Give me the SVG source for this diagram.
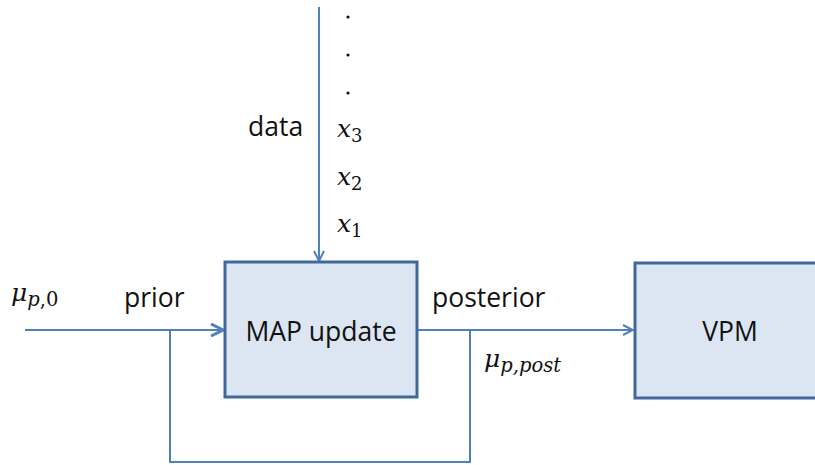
<svg xmlns="http://www.w3.org/2000/svg" width="815" height="465" viewBox="0 0 815 465">
<style>
.box{fill:#dce6f2;stroke:#41689a;stroke-width:3}
.ln{fill:none;stroke:#4f81bd;stroke-width:2}
.t{font-family:"Open Sans","Liberation Sans",sans-serif;font-size:26.5px;fill:#111}
.m{font-family:"DejaVu Serif","Liberation Serif",serif;font-style:italic;font-size:25px;fill:#111}
.s{font-size:18px}
.s2{font-size:19.5px}
</style>
<defs>
<marker id="ah" viewBox="0 0 12 12" refX="11" refY="6" markerWidth="12" markerHeight="12" markerUnits="userSpaceOnUse" orient="auto">
<path d="M1,1 L11,6 L1,11" fill="none" stroke="#4f81bd" stroke-width="2"/>
</marker>
<marker id="ahb" viewBox="0 0 14 14" refX="13" refY="7" markerWidth="14" markerHeight="14" markerUnits="userSpaceOnUse" orient="auto">
<path d="M1,1 L13,7 L1,13" fill="none" stroke="#4f81bd" stroke-width="3"/>
</marker>
</defs>
<g id="connectors">
<line class="ln" x1="319" y1="7" x2="319" y2="261" marker-end="url(#ah)"/>
<line class="ln" x1="25" y1="330" x2="223" y2="330" marker-end="url(#ahb)"/>
<line class="ln" x1="417" y1="330" x2="633" y2="330" marker-end="url(#ah)"/>
<polyline class="ln" points="470,330 470,462 170,462 170,330"/>
</g>
<g id="map">
<rect class="box" x="225" y="262" width="192" height="135"/>
<text class="t" x="321" y="341" text-anchor="middle">MAP update</text>
</g>
<g id="vpm">
<rect class="box" x="635" y="263" width="190" height="135"/>
<text class="t" x="730" y="341" text-anchor="middle">VPM</text>
</g>
<g id="labels">
<text class="t" x="248" y="136">data</text>
<text class="t" x="124" y="307">prior</text>
<text class="t" x="432" y="307">posterior</text>
<circle cx="348" cy="17" r="1.6" fill="#111"/>
<circle cx="348" cy="55" r="1.6" fill="#111"/>
<circle cx="348" cy="93" r="1.6" fill="#111"/>
<text class="m" x="337" y="137">x<tspan class="s" dy="5" font-style="normal">3</tspan></text>
<text class="m" x="337" y="185">x<tspan class="s" dy="5" font-style="normal">2</tspan></text>
<text class="m" x="337" y="232">x<tspan class="s" dy="5" font-style="normal">1</tspan></text>
<text class="m" x="11" y="301">μ<tspan class="s2" dy="5">p</tspan><tspan class="s2" font-style="normal">,0</tspan></text>
<text class="m" x="484" y="367">μ<tspan class="s2" dy="5">p,post</tspan></text>
</g>
</svg>
